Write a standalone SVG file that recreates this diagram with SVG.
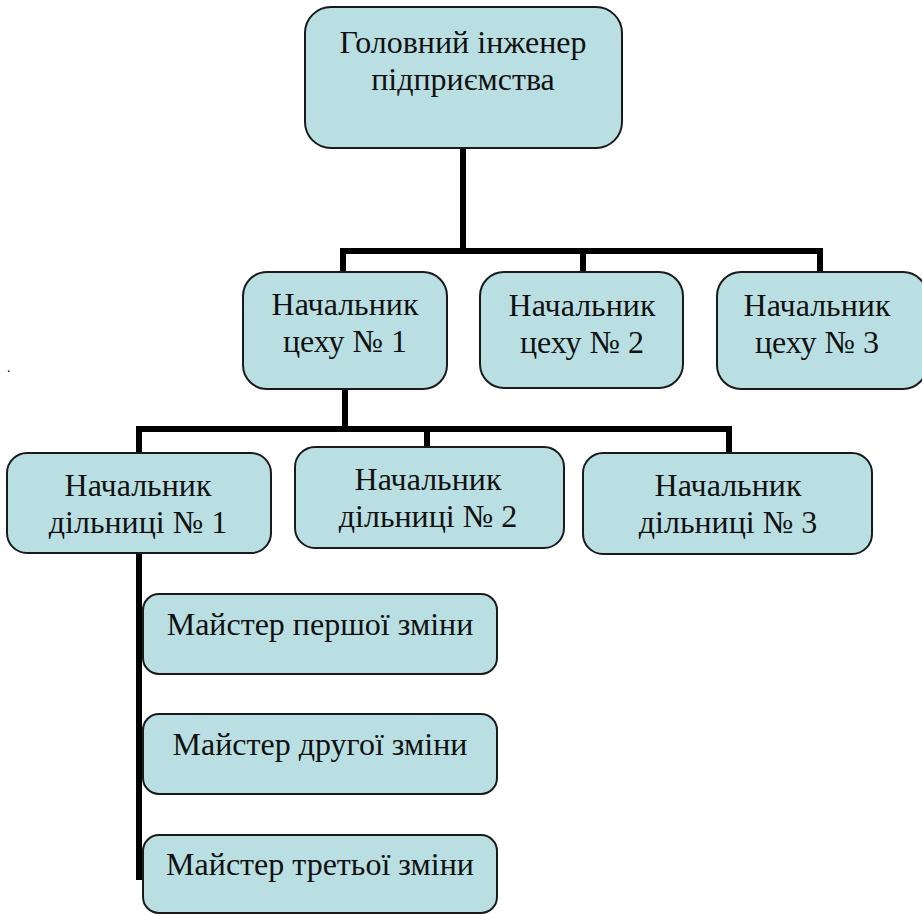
<svg xmlns="http://www.w3.org/2000/svg" width="922" height="915" viewBox="0 0 922 915">
<style>
.box{fill:#badfe3;stroke:#1a1a1a;stroke-width:2}
.t{font-size:32px;fill:#111;text-anchor:middle}
.c{fill:none;stroke:#000;stroke-width:6;stroke-linejoin:miter;stroke-linecap:square}
</style>
<rect width="922" height="915" fill="#fff"/>
<g id="connectors">
<path class="c" d="M463 148V251M343 272V251H820V272M583 251V272"/>
<path class="c" d="M345 389V429M139 453V429H729V453M427 429V447"/>
<path class="c" d="M139 553V877"/>
</g>
<g font-family="Liberation Serif, serif">
<g id="n0"><rect class="box" x="305" y="7" width="317" height="141" rx="26"/>
<text class="t" x="463" y="53">Головний інженер</text><text class="t" x="463" y="90">підприємства</text></g>
<g id="n1"><rect class="box" x="243" y="272" width="204" height="117" rx="24"/>
<text class="t" x="345" y="315">Начальник</text><text class="t" x="345" y="352">цеху № 1</text></g>
<g id="n2"><rect class="box" x="480" y="272" width="203" height="116" rx="24"/>
<text class="t" x="582" y="316">Начальник</text><text class="t" x="582" y="353">цеху № 2</text></g>
<g id="n3"><rect class="box" x="717" y="272" width="210" height="117" rx="24"/>
<text class="t" x="817" y="316">Начальник</text><text class="t" x="817" y="353">цеху № 3</text></g>
<g id="n4"><rect class="box" x="7" y="453" width="264" height="100" rx="20"/>
<text class="t" x="138" y="496">Начальник</text><text class="t" x="138" y="533">дільниці № 1</text></g>
<g id="n5"><rect class="box" x="295" y="447" width="269" height="101" rx="20"/>
<text class="t" x="428" y="490">Начальник</text><text class="t" x="428" y="527">дільниці № 2</text></g>
<g id="n6"><rect class="box" x="583" y="453" width="289" height="101" rx="20"/>
<text class="t" x="728" y="496">Начальник</text><text class="t" x="728" y="533">дільниці № 3</text></g>
<g id="n7"><rect class="box" x="143" y="594" width="354" height="80" rx="16"/>
<text class="t" x="320" y="635">Майстер першої зміни</text></g>
<g id="n8"><rect class="box" x="143" y="714" width="354" height="80" rx="16"/>
<text class="t" x="320" y="755">Майстер другої зміни</text></g>
<g id="n9"><rect class="box" x="143" y="835" width="354" height="78" rx="16"/>
<text class="t" x="320" y="875">Майстер третьої зміни</text></g>
<text x="7" y="372" font-size="14" fill="#111">.</text>
</g>
</svg>
